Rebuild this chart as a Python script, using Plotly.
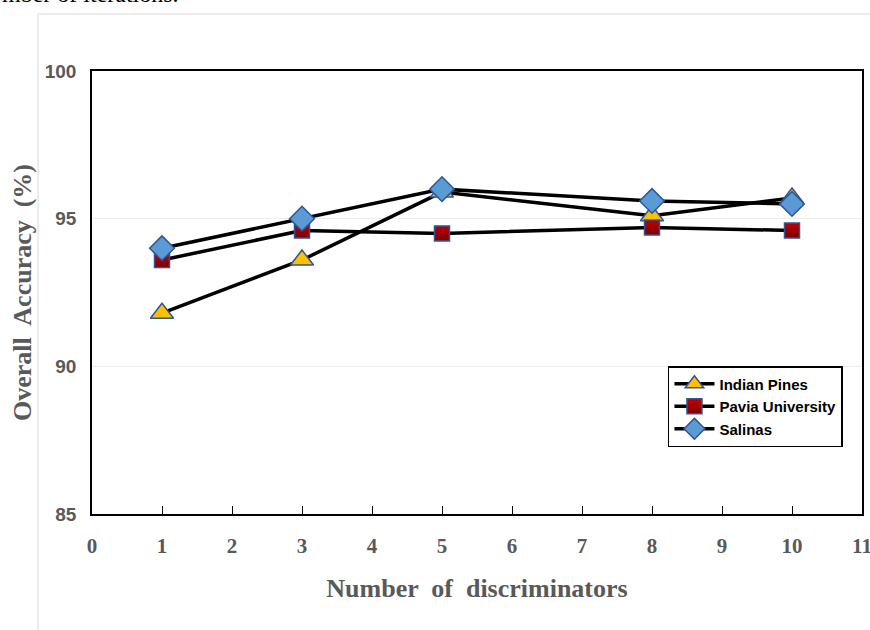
import plotly.graph_objects as go

x_vals = [1, 3, 5, 8, 10]
indian_pines = [91.8, 93.6, 95.9, 95.1, 95.7]
pavia_univ = [93.6, 94.6, 94.5, 94.7, 94.6]
salinas = [94.0, 95.0, 96.0, 95.6, 95.5]
x_ticks = list(range(0, 12))
y_ticks = [85, 90, 95, 100]

fig = go.Figure()
series = [
    ("Indian Pines", indian_pines, "triangle-up", "#FFC000", 20),
    ("Pavia University", pavia_univ, "square", "#C00000", 15),
    ("Salinas", salinas, "diamond", "#5B9BD5", 19),
]
for name, vals, sym, col, sz in series:
    marker = dict(symbol=sym, color=col, size=sz, line=dict(color="#2F5597", width=1.5))
    if sym == "square":
        marker["gradient"] = dict(type="vertical", color="#7A0000")
    fig.add_trace(go.Scatter(
        x=x_vals, y=vals, name=name, mode="lines+markers",
        line=dict(color="black", width=3.5), marker=marker,
    ))

grey = "#595959"
fig.update_layout(
    width=870, height=630,
    margin=dict(l=92, r=8, t=71, b=116, autoexpand=False),
    paper_bgcolor="white", plot_bgcolor="white",
    showlegend=True,
    legend=dict(
        x=0.748, y=0.334, xanchor="left", yanchor="top",
        bordercolor="black", borderwidth=1.5, bgcolor="white",
        font=dict(family="Liberation Sans", size=15, color="black", weight="bold"),
        itemwidth=40,
    ),
    xaxis=dict(
        range=[0, 11], tickmode="array", tickvals=x_ticks,
        ticks="inside", ticklen=8, tickwidth=1.2, tickcolor="black",
        showline=True, linecolor="black", linewidth=1.5, mirror=True,
        showgrid=False, zeroline=False, automargin=False,
        ticklabeloverflow="allow",
        tickfont=dict(family="Liberation Serif", size=21, color=grey, weight="bold"),
        ticklabelstandoff=12,
        title=dict(text="Number  of  discriminators",
                   font=dict(family="Liberation Serif", size=26, color=grey, weight="bold"),
                   standoff=22),
    ),
    yaxis=dict(
        range=[85, 100], tickmode="array", tickvals=y_ticks,
        ticks="", showline=True, linecolor="black", linewidth=1.5, mirror=True,
        showgrid=True, gridcolor="#EDEDED", gridwidth=1, zeroline=False, automargin=False,
        tickfont=dict(family="Liberation Sans", size=19, color=grey, weight="bold"),
        ticklabelstandoff=10,
        title=dict(text="Overall  Accuracy  (%)",
                   font=dict(family="Liberation Serif", size=26, color=grey, weight="bold"),
                   standoff=6),
    ),
)

# light container border of the embedded figure
fig.add_shape(type="line", xref="paper", yref="paper",
              x0=-0.0701, x1=1.02, y0=1.1287, y1=1.1287,
              line=dict(color="#E6E6E6", width=1.5))
fig.add_shape(type="line", xref="paper", yref="paper",
              x0=-0.0701, x1=-0.0701, y0=1.1287, y1=-0.27,
              line=dict(color="#E6E6E6", width=1.5))

fig.add_annotation(text="mber of iterations.", xref="paper", yref="paper",
                   x=(181 - 92) / 770, y=1 + (71 - 9) / 443,
                   xanchor="right", yanchor="bottom", showarrow=False,
                   font=dict(family="Liberation Serif", size=24, color="black"))

fig.write_html("out.html")
